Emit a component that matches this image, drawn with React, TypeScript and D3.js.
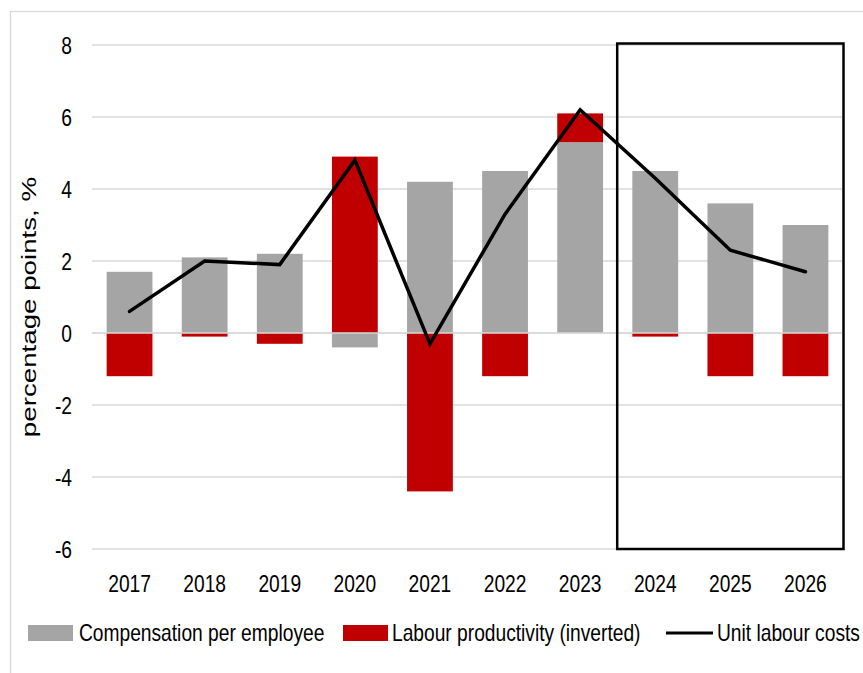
import React from "react";
import * as d3 from "d3";

const years = ["2017", "2018", "2019", "2020", "2021", "2022", "2023", "2024", "2025", "2026"];
const compensation = [1.7, 2.1, 2.2, -0.4, 4.2, 4.5, 5.3, 4.5, 3.6, 3.0];
const productivityInv = [-1.2, -0.1, -0.3, 4.9, -4.4, -1.2, 0.8, -0.1, -1.2, -1.2];
const unitLabourCosts = [0.6, 2.0, 1.9, 4.8, -0.3, 3.3, 6.2, 4.3, 2.3, 1.7];
const yTicks = [-6, -4, -2, 0, 2, 4, 6, 8];
const highlightYears = ["2024", "2026"];

const GREY = "#A5A5A5";
const RED = "#C00000";
const FONT = "'Liberation Sans', Arial, sans-serif";

function NText(props: { x: number; y: number; anchor?: string; children: React.ReactNode; size?: number }) {
  return (
    <text
      transform={`translate(${props.x},${props.y}) scale(0.8,1)`}
      textAnchor={props.anchor || "start"}
      fontFamily={FONT}
      fontSize={props.size || 24}
      fill="#000"
    >
      {props.children}
    </text>
  );
}

export default function App() {
  const W = 863, H = 673;
  const x = d3.scaleBand<string>().domain(years).range([92, 843]).paddingInner(0.39).paddingOuter(0.195);
  const y = d3.scaleLinear().domain([-6, 8]).range([549, 45]);

  const series = [
    { name: "Compensation per employee", values: compensation, color: GREY },
    { name: "Labour productivity (inverted)", values: productivityInv, color: RED },
  ];
  const rects: { key: string; x: number; y: number; w: number; h: number; color: string }[] = [];
  years.forEach((yr, i) => {
    let pos = 0, neg = 0;
    series.forEach((s, si) => {
      const v = s.values[i];
      let y0: number, y1: number;
      if (v >= 0) { y0 = pos; y1 = pos + v; pos = y1; } else { y0 = neg; y1 = neg + v; neg = y1; }
      const top = y(Math.max(y0, y1));
      const bot = y(Math.min(y0, y1));
      rects.push({ key: `${yr}-${si}`, x: x(yr)!, y: top, w: x.bandwidth(), h: bot - top, color: s.color });
    });
  });

  const line = d3.line<number>()
    .x((_, i) => x(years[i])! + x.bandwidth() / 2)
    .y((d) => y(d));

  const boxLeft = x(highlightYears[0])! - (x.step() - x.bandwidth()) / 2 - 0.5;
  const boxRight = x(highlightYears[1])! + x.bandwidth() + (x.step() - x.bandwidth()) / 2 + 0.5;

  return (
    <svg width={W} height={H} style={{ position: "absolute", left: 0, top: 0, background: "#fff" }}>
      <rect x={10.5} y={11.5} width={W} height={H} fill="none" stroke="#D9D9D9" strokeWidth={1.3} />
      {yTicks.map((t) => (
        <line key={t} x1={92} x2={842} y1={y(t)} y2={y(t)} stroke="#D9D9D9" strokeWidth={1.3} />
      ))}
      {rects.map((r) => (
        <rect key={r.key} x={r.x} y={r.y} width={r.w} height={r.h} fill={r.color} />
      ))}
      <line x1={92} x2={842} y1={y(0)} y2={y(0)} stroke="#D9D9D9" strokeWidth={1.3} />
      <path d={line(unitLabourCosts)!} fill="none" stroke="#000" strokeWidth={3.5} strokeLinejoin="miter" strokeLinecap="round" />
      <rect x={boxLeft} y={y(8) - 1.5} width={boxRight - boxLeft} height={y(-6) - y(8) + 1.5} fill="none" stroke="#000" strokeWidth={2.5} />
      {yTicks.map((t) => (
        <NText key={t} x={72} y={y(t) + 8.5} anchor="end">{t}</NText>
      ))}
      {years.map((yr) => (
        <NText key={yr} x={x(yr)! + x.bandwidth() / 2} y={592} anchor="middle">{yr}</NText>
      ))}
      <text transform="translate(36,307) rotate(-90) scale(1.32,1)" textAnchor="middle" fontFamily={FONT} fontSize={21} fill="#000">percentage points, %</text>
      <rect x={28} y={625} width={45} height={16} fill={GREY} />
      <NText x={79} y={641}>Compensation per employee</NText>
      <rect x={343} y={625} width={45} height={16} fill={RED} />
      <NText x={392} y={641}>Labour productivity (inverted)</NText>
      <line x1={666} x2={713} y1={633} y2={633} stroke="#000" strokeWidth={3} />
      <NText x={717} y={641}>Unit labour costs</NText>
    </svg>
  );
}
